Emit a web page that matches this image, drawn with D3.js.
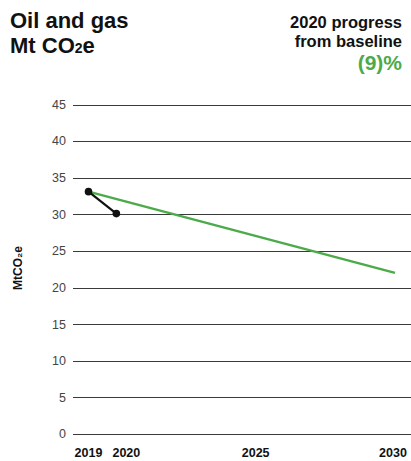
<!DOCTYPE html>
<html><head><meta charset="utf-8">
<script src="https://cdn.jsdelivr.net/npm/d3@7"></script>
<style>body{margin:0;background:#fff;}svg{display:block;font-family:"Liberation Sans",Arial,Helvetica,sans-serif;}</style>
</head><body>
<svg id="c" width="411" height="461"></svg>
<script>
const actualYears = [2019, 2020];
const actualValues = [33.1, 30.1];
const targetYears = [2019, 2030];
const targetValues = [33.1, 22.0];
const yTicks = [0, 5, 10, 15, 20, 25, 30, 35, 40, 45];
const xTicks = [2019, 2020, 2025, 2030];
const progressLabel = "(9)%";

const svg = d3.select("#c");
const x = d3.scaleLinear().domain([2019, 2030]).range([88.5, 395]);
const y = d3.scaleLinear().domain([0, 45]).range([434, 104.5]);

// gridlines
svg.append("g").selectAll("line").data(yTicks).join("line")
  .attr("x1", 73).attr("x2", 411)
  .attr("y1", d => Math.round(y(d)) + 0.5).attr("y2", d => Math.round(y(d)) + 0.5)
  .attr("stroke", "#3a3a3a").attr("stroke-width", 1.1);

// y tick labels
svg.append("g").selectAll("text").data(yTicks).join("text")
  .attr("x", 66).attr("y", d => y(d)).attr("dy", "0.35em")
  .attr("text-anchor", "end").attr("font-size", 12.5).attr("fill", "#444")
  .text(d => d);

// x tick labels
const xOffset = {2019: 0, 2020: 10, 2025: 0, 2030: -2};
svg.append("g").selectAll("text").data(xTicks).join("text")
  .attr("x", d => x(d) + xOffset[d]).attr("y", 457)
  .attr("text-anchor", "middle").attr("font-size", 12.5).attr("font-weight", "bold").attr("fill", "#111")
  .text(d => d);

// y axis title
svg.append("text").attr("transform", "translate(22,268) rotate(-90)")
  .attr("text-anchor", "middle").attr("font-size", 12).attr("font-weight", "bold").attr("fill", "#111")
  .text("MtCO₂e");

const line = d3.line().x(d => x(d[0])).y(d => y(d[1]));

// target line
svg.append("path").datum(d3.zip(targetYears, targetValues))
  .attr("d", line).attr("fill", "none").attr("stroke", "#4caa4a").attr("stroke-width", 2.5);

// actual line
svg.append("path").datum(d3.zip(actualYears, actualValues))
  .attr("d", line).attr("fill", "none").attr("stroke", "#111").attr("stroke-width", 2.2);
svg.append("g").selectAll("circle").data(d3.zip(actualYears, actualValues)).join("circle")
  .attr("cx", d => x(d[0])).attr("cy", d => y(d[1])).attr("r", 3.8).attr("fill", "#111");

// titles
svg.append("text").attr("x", 10).attr("y", 28).attr("font-size", 22).attr("font-weight", "bold").attr("fill", "#111").text("Oil and gas");
const t2 = svg.append("text").attr("x", 10).attr("y", 53).attr("font-size", 22).attr("font-weight", "bold").attr("fill", "#111");
t2.append("tspan").text("Mt CO");
t2.append("tspan").attr("font-size", 14).text("2");
t2.append("tspan").text("e");

svg.append("text").attr("x", 402).attr("y", 28).attr("text-anchor", "end").attr("font-size", 16.5).attr("font-weight", "bold").attr("fill", "#111").text("2020 progress");
svg.append("text").attr("x", 402).attr("y", 47).attr("text-anchor", "end").attr("font-size", 16.5).attr("font-weight", "bold").attr("fill", "#111").text("from baseline");
svg.append("text").attr("x", 402).attr("y", 70).attr("text-anchor", "end").attr("font-size", 21).attr("font-weight", "bold").attr("fill", "#4caa4a").text(progressLabel);
</script>
</body></html>
